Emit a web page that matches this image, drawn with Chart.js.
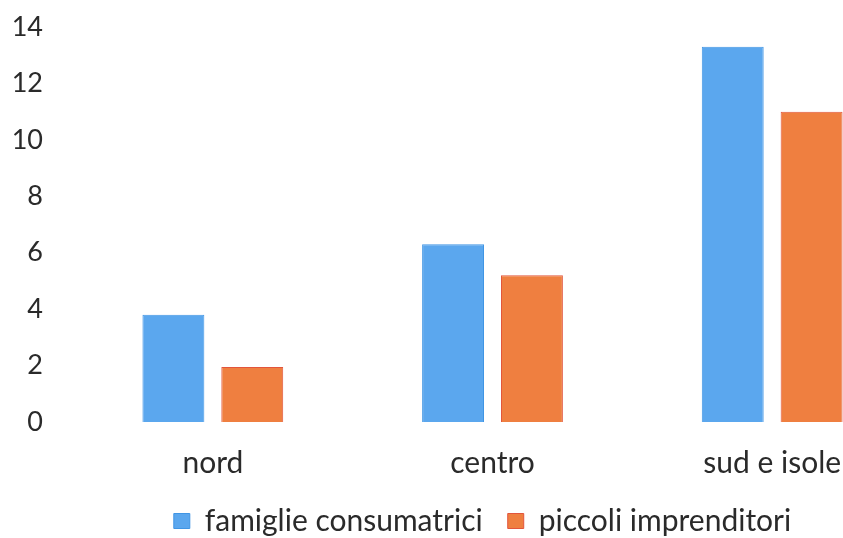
<!DOCTYPE html>
<html>
<head>
<meta charset="utf-8">
<script src="https://cdn.jsdelivr.net/npm/chart.js"></script>
<style>
  html, body { margin: 0; padding: 0; background: #fff; overflow: hidden; }
  #wrap { width: 843px; height: 538px; overflow: hidden; }
</style>
</head>
<body>
<div id="wrap"><canvas id="myChart" width="962" height="546"></canvas></div>
<script>
var categories = ['nord', 'centro', 'sud e isole'];
var famiglie = [3.8, 6.3, 13.3];
var imprenditori = [1.95, 5.2, 11.0];
var seriesNames = ['famiglie consumatrici', 'piccoli imprenditori'];
var yTicks = [0, 2, 4, 6, 8, 10, 12, 14];

var ctx = document.getElementById("myChart").getContext("2d");

// nudge the legend a little to the left, like in the picture
var legendShift = {
    id: 'legendShift',
    afterLayout: function(chart) {
        chart.legend.left -= 10;
        chart.legend.right -= 10;
    }
};

// the original picture is cut on the right, so the canvas is wider than the page
var myChart = new Chart(ctx, {
    type: 'bar',
    data: {
        labels: categories,
        datasets: [{
            label: seriesNames[0],
            backgroundColor: '#5ba7ee',
            borderColor: '#4095e4',
            borderWidth: 1,
            data: famiglie
        }, {
            label: seriesNames[1],
            backgroundColor: '#ef7f40',
            borderColor: '#e2553c',
            borderWidth: 1,
            data: imprenditori
        }]
    },
    options: {
        responsive: false,
        animation: false,
        categoryPercentage: 0.564,
        barPercentage: 0.785,
        layout: {
            padding: { top: 27, right: 50, left: 0, bottom: 0 }
        },
        scales: {
            x: {
                grid: { display: false, drawTicks: false },
                border: { display: false },
                afterFit: function(scale) { scale.height = 59; },
                ticks: {
                    color: '#2a2a2a',
                    padding: 23,
                    font: { family: 'Lato', size: 30 }
                }
            },
            y: {
                min: 0,
                max: yTicks[yTicks.length - 1],
                grid: { display: false, drawTicks: false },
                border: { display: false },
                afterFit: function(scale) {
                    scale.width = 73;
                    scale.paddingTop = 0;
                    scale.paddingBottom = 0;
                },
                afterBuildTicks: function(scale) {
                    scale.ticks = yTicks.map(function(v) { return { value: v }; });
                },
                ticks: {
                    color: '#2a2a2a',
                    padding: 30,
                    font: { family: 'Lato', size: 27 }
                }
            }
        },
        plugins: {
            tooltip: { enabled: false },
            legend: {
                display: true,
                position: 'bottom',
                fullSize: false,
                labels: {
                    color: '#2a2a2a',
                    boxWidth: 16,
                    boxHeight: 15,
                    padding: 25,
                    font: { family: 'Lato', size: 30 }
                }
            }
        }
    },
    plugins: [legendShift]
});
</script>
</body>
</html>
